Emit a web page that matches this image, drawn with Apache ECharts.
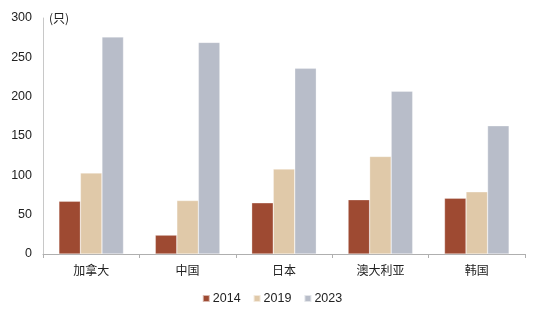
<!DOCTYPE html>
<html><head><meta charset="utf-8">
<script src="https://cdn.jsdelivr.net/npm/echarts@6/dist/echarts.min.js"></script>
<style>html,body{margin:0;padding:0;background:#fff}#c{width:544px;height:322px}</style>
</head><body><div id="c"></div>
<script>
var categories = ['加拿大', '中国', '日本', '澳大利亚', '韩国'];
var seriesNames = ['2014', '2019', '2023'];
var v2014 = [67, 24, 65, 69, 71];
var v2019 = [103, 68, 108, 124, 79];
var v2023 = [276, 269, 236, 207, 163];
var yTicks = [0, 50, 100, 150, 200, 250, 300];
var colors = ['#9E4A32', '#E0C9A9', '#B8BDC9'];
var values = [v2014, v2019, v2023];

var chart = echarts.init(document.getElementById('c'));
var font = 'Liberation Sans, Arial, sans-serif';
chart.setOption({
  animation: false,
  textStyle: {fontFamily: font},
  grid: {left: 43, right: 19, top: 18, bottom: 68, containLabel: false},
  legend: {
    bottom: 12, left: 'center', itemWidth: 7, itemHeight: 7, itemGap: 12,
    icon: 'rect',
    textStyle: {fontSize: 12.5, color: '#222', fontFamily: font, padding: [0,0,0,-2]},
    data: seriesNames
  },
  xAxis: {
    type: 'category', data: categories,
    axisLine: {lineStyle: {color: '#AFAFAF', width: 1}},
    axisTick: {show: true, length: 4, lineStyle: {color: '#AFAFAF'}},
    axisLabel: {fontSize: 12, color: '#222', margin: 10, fontFamily: 'Noto Sans CJK SC'}
  },
  yAxis: {
    type: 'value', min: yTicks[0], max: yTicks[yTicks.length-1], interval: 50,
    name: '(只)', nameLocation: 'end', nameGap: 0,
    nameTextStyle: {fontSize: 12, color: '#222', align: 'left', padding: [0,0,0,6], verticalAlign: 'middle', fontFamily: 'Noto Sans CJK SC'},
    axisLine: {show: true, lineStyle: {color: '#C8C8C8'}},
    axisTick: {show: false},
    splitLine: {show: false},
    axisLabel: {fontSize: 12.5, color: '#222', margin: 11}
  },
  series: seriesNames.map(function(n, i) {
    return {
      name: n, type: 'bar', data: values[i], barGap: '0%', barCategoryGap: '33%',
      itemStyle: {color: colors[i], borderColor: 'rgba(255,255,255,0.6)', borderWidth: 0.5}
    };
  })
});
</script></body></html>
